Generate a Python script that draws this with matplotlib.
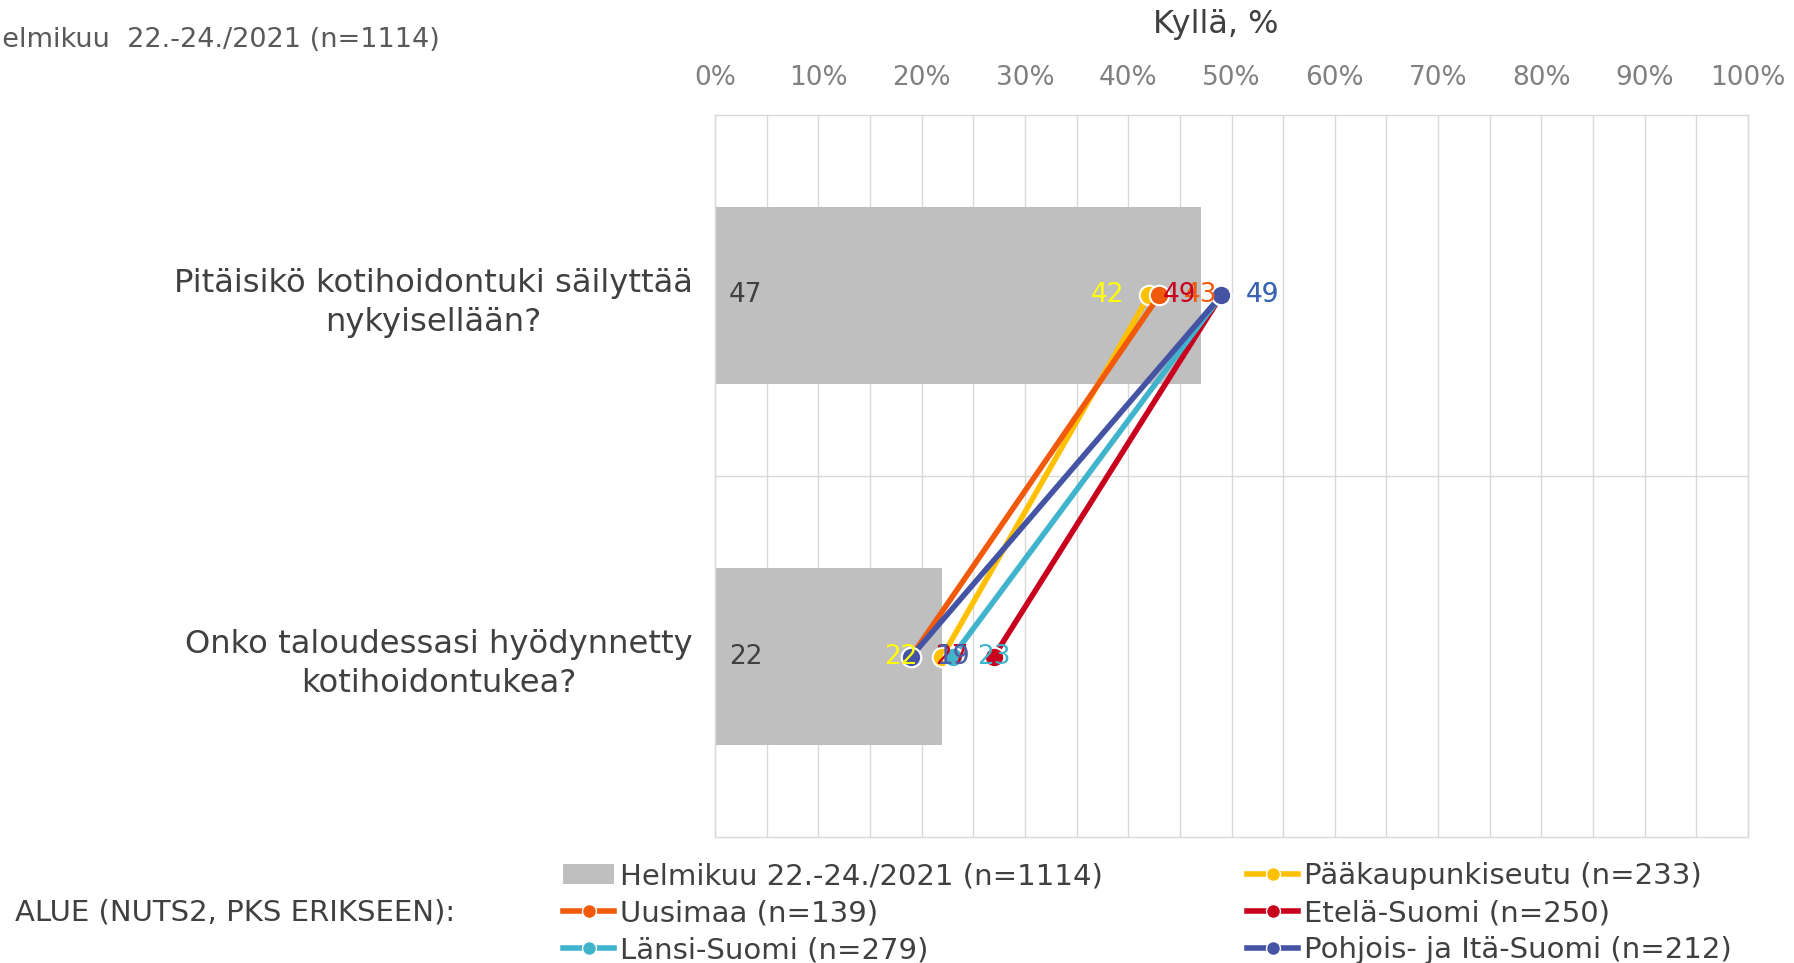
import matplotlib
matplotlib.use("Agg")
import matplotlib.pyplot as plt
from matplotlib.lines import Line2D
from matplotlib.patches import Patch

# ---------------- data ----------------
categories = ["Pitäisikö kotihoidontuki säilyttää\nnykyisellään?",
              "Onko taloudessasi hyödynnetty\nkotihoidontukea?"]
total_label = "Helmikuu 22.-24./2021 (n=1114)"
total_values = [47, 22]

series_names = ["Pääkaupunkiseutu (n=233)", "Uusimaa (n=139)", "Etelä-Suomi (n=250)",
                "Länsi-Suomi (n=279)", "Pohjois- ja Itä-Suomi (n=212)"]
paakaupunkiseutu = [42, 22]
uusimaa = [43, 19]
etela_suomi = [49, 27]
lansi_suomi = [49, 23]
pohjois_ita_suomi = [49, 19]
series_values = [paakaupunkiseutu, uusimaa, etela_suomi, lansi_suomi, pohjois_ita_suomi]

x_ticks = [0, 10, 20, 30, 40, 50, 60, 70, 80, 90, 100]
x_tick_labels = [f"{t}%" for t in x_ticks]

# ---------------- style ----------------
line_colors = ["#FFC000", "#F15A0B", "#C8001E", "#40B4CC", "#4553A4"]
label_colors = ["#FFFF00", "#F15A0B", "#C8001E", "#40B4CC", "#4062B4"]
label_side = [-1, 1, -1, 1, 1]
bar_color = "#BFBFBF"
grid_color = "#D9D9D9"
text_dark = "#404040"
text_gray = "#808080"

W, H = 1794, 963
fig = plt.figure(figsize=(W / 100, H / 100), dpi=100)
fig.patch.set_facecolor("white")

left, right, top, bottom = 715, 1748, 115, 837
ax = fig.add_axes([left / W, 1 - bottom / H, (right - left) / W, (bottom - top) / H])

ypos = list(range(len(categories)))
ax.barh(ypos, total_values, height=0.49, color=bar_color, zorder=2)
for y, v in zip(ypos, total_values):
    ax.annotate(f"{v}", (0, y), xytext=(10, 0), textcoords="offset points",
                ha="left", va="center", fontsize=19, color=text_dark, zorder=6)

for i, (vals, c) in enumerate(zip(series_values, line_colors)):
    ax.plot(vals, ypos, color=c, lw=4, marker="o", markersize=14,
            markeredgecolor="white", markeredgewidth=1.5, zorder=3 + i * 0.1,
            solid_capstyle="butt")
for i, vals in enumerate(series_values):
    for y, v in zip(ypos, vals):
        ax.annotate(f"{v}", (v, y), xytext=(label_side[i] * 30, 0), textcoords="offset points",
                    ha="center", va="center", fontsize=19, color=label_colors[i], zorder=10)

ax.set_xlim(0, 100)
ax.set_ylim(1.5, -0.5)
ax.xaxis.tick_top()
ax.set_xticks(x_ticks)
ax.set_xticklabels(x_tick_labels, fontsize=19, color=text_gray)
ax.set_xticks(range(5, 100, 10), minor=True)
ax.tick_params(axis="x", which="both", length=0, pad=17)
ax.grid(axis="x", which="both", color=grid_color, lw=1, zorder=0)
ax.axhline(0.5, color=grid_color, lw=1, zorder=1)

ax.set_yticks(ypos)
ax.set_yticklabels(categories, fontsize=23.2, color=text_dark)
for lab in ax.get_yticklabels():
    lab.set_multialignment("center")
    lab.set_linespacing(1.35)
ax.tick_params(axis="y", length=0, pad=16)

for s in ax.spines.values():
    s.set_color(grid_color)
    s.set_linewidth(1)

fig.text(1216 / W, 1 - 25 / H, "Kyllä, %", ha="center", va="center", fontsize=23, color=text_dark)
fig.text(440 / W, 1 - 40 / H, "Helmikuu  22.-24./2021 (n=1114)", ha="right", va="center",
         fontsize=19.5, color="#595959")
fig.text(15 / W, 1 - 912 / H, "ALUE (NUTS2, PKS ERIKSEEN):", ha="left", va="center",
         fontsize=21, color=text_dark)

handles = [Patch(facecolor=bar_color, edgecolor="none")]
for c in line_colors:
    handles.append(Line2D([0], [0], color=c, lw=4, marker="o", markersize=10,
                          markeredgecolor="white", markeredgewidth=1))
labels = [total_label] + series_names
order = [0, 2, 4, 1, 3, 5]
handles = [handles[k] for k in order]
labels = [labels[k] for k in order]
fig.legend(handles, labels, ncol=2, loc="upper left",
           bbox_to_anchor=(563 / W, 1 - 862 / H), frameon=False, fontsize=21,
           handlelength=1.75, handletextpad=0.2, labelspacing=0.31, columnspacing=4.95,
           borderpad=0, borderaxespad=0, labelcolor=text_dark)

fig.savefig("out.png", dpi=100, facecolor="white")
